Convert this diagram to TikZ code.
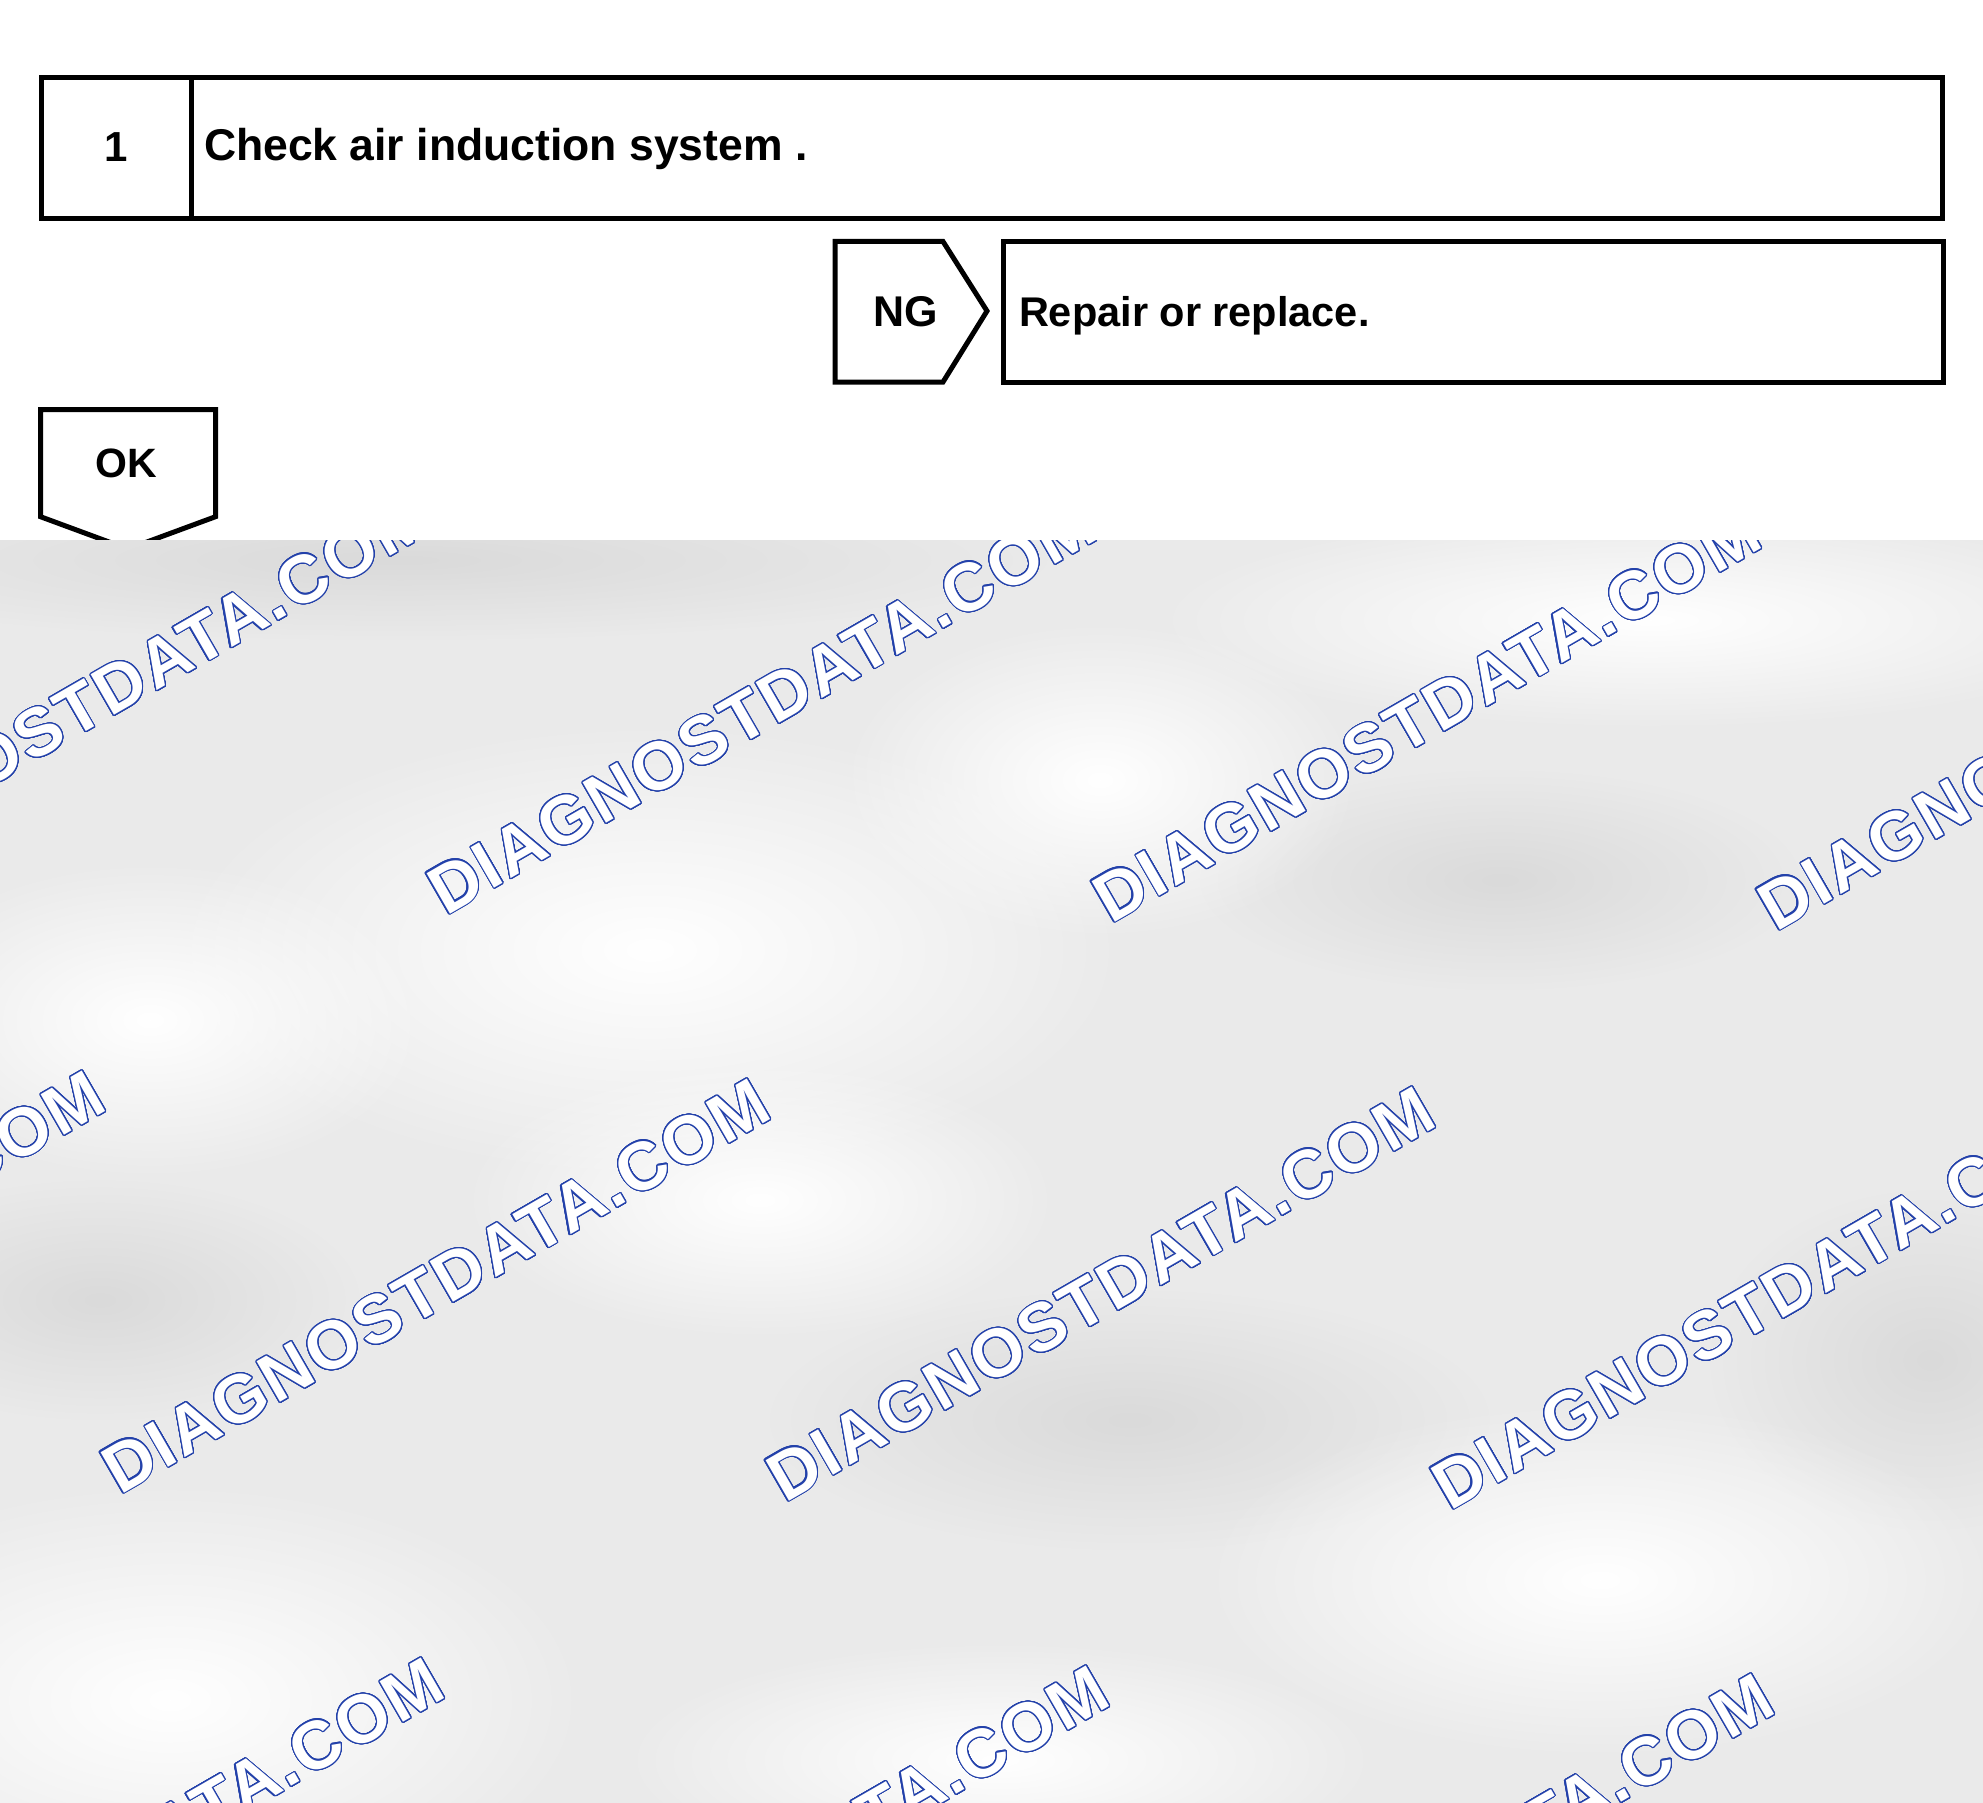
\documentclass[tikz,border=0pt]{standalone}
\usepackage{fontspec}
\setmainfont{Liberation Sans}
\newfontfamily\wmfont{Liberation Sans}[LetterSpace=4]
\usepackage[copies]{contour}
\usetikzlibrary{fadings}
\definecolor{wmblue}{RGB}{35,65,170}
\definecolor{bggray}{RGB}{234,234,234}
\definecolor{bgdark}{RGB}{218,218,218}
\tikzfading[name=softspot, inner color=transparent!0, outer color=transparent!100]
\contournumber{32}
\contourlength{1.1pt}
\begin{document}
\begin{tikzpicture}[x=1pt,y=-1pt,
  box/.style={draw=black, line width=5pt, line join=miter},
  txt/.style={inner sep=0pt, outer sep=0pt, font=\bfseries},
  wm/.style={inner sep=0pt, outer sep=0pt, text=white, anchor=base west, rotate=30,
    font=\wmfont\bfseries\fontsize{68}{72}\selectfont},
  spot/.style={path fading=softspot}]
\useasboundingbox (0,0) rectangle (1983,1803);
\fill[white] (0,0) rectangle (1983,1803);

% step row
\draw[box] (41,77.5) rectangle (1942,219);
\draw[box] (191,77.5) -- (191,219);
\node[txt, anchor=base, font=\bfseries\fontsize{42}{46}\selectfont] (num) at (116,162) {1};
\node[txt, anchor=base west, font=\bfseries\fontsize{44.5}{50}\selectfont] (title) at (204,161) {Check air induction system .};

% NG branch
\draw[box] (835,241.5) -- (943,241.5) -- (987,311) -- (943,382) -- (835,382) -- cycle;
\node[txt, anchor=base, font=\bfseries\fontsize{43}{48}\selectfont] (ng) at (906,326) {NG};
\draw[box] (1003,241.5) rectangle (1943,382);
\node[txt, anchor=base west, font=\bfseries\fontsize{41.5}{46}\selectfont] (fix) at (1019,326) {Repair or replace.};

% OK branch
\draw[box] (40.5,409.5) -- (215.5,409.5) -- (215.5,516.7) -- (128,549) -- (40.5,516.7) -- cycle;
\node[txt, anchor=base, font=\bfseries\fontsize{41}{46}\selectfont] (ok) at (126,477) {OK};

% watermark background
\fill[bggray] (0,540) rectangle (1983,1803);
\begin{scope}
\clip (0,540) rectangle (1983,1803);
\fill[bgdark, spot] (400,560) ellipse (650pt and 80pt);
\fill[bgdark, spot] (1500,880) ellipse (300pt and 110pt);
\fill[white, spot] (1650,620) ellipse (500pt and 110pt);
\fill[white, spot] (650,950) ellipse (480pt and 230pt);
\fill[white, spot] (150,1020) ellipse (280pt and 160pt);
\fill[white, spot] (1100,780) ellipse (260pt and 160pt);
\fill[bgdark, spot] (100,1300) ellipse (260pt and 120pt);
\fill[white, spot] (760,1200) ellipse (300pt and 140pt);
\fill[bgdark, spot] (1130,1420) ellipse (360pt and 130pt);
\fill[bgdark, spot] (1930,1360) ellipse (220pt and 170pt);
\fill[white, spot] (1600,1580) ellipse (400pt and 180pt);
\fill[white, spot] (170,1700) ellipse (420pt and 220pt);
\fill[white, spot] (1000,1760) ellipse (380pt and 120pt);
\foreach \px/\py [count=\k] in {-219/908, 446/916, 1111/924, 1776/932,
    -545/1487, 120/1495, 785/1503, 1450/1511,
    -206/2074, 459/2082, 1124/2090}
  \node[wm] (wm\k) at (\px,\py) {\contour{wmblue}{DIAGNOSTDATA.COM}};
\end{scope}
\end{tikzpicture}
\end{document}
